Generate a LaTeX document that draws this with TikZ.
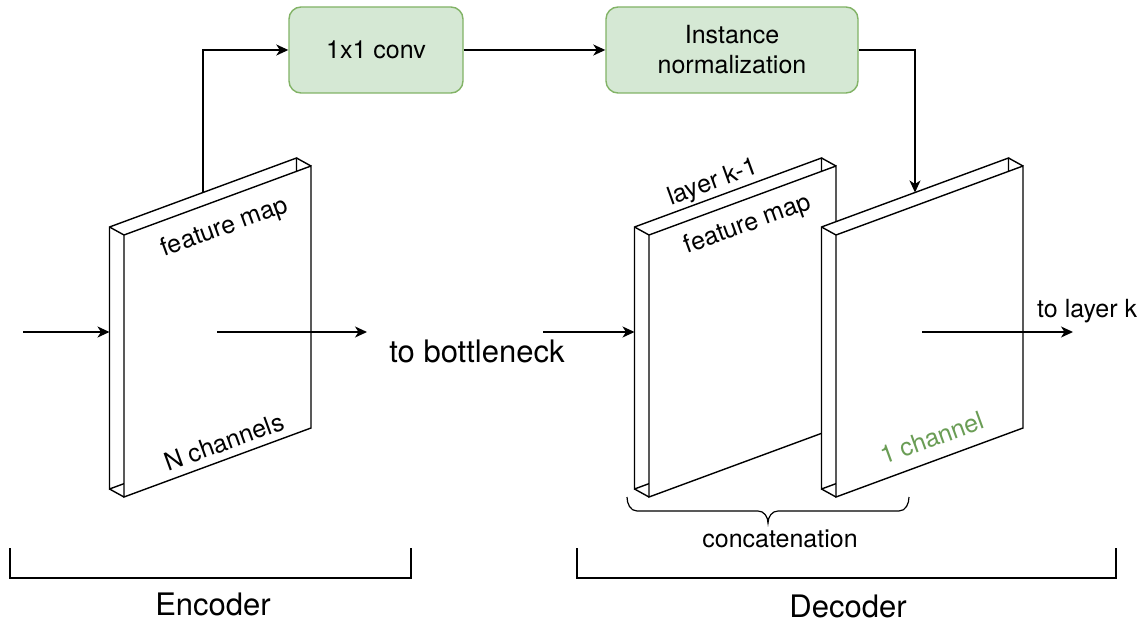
\documentclass[tikz,border=0pt]{standalone}
\usepackage{fontspec}
\setmainfont{TeX Gyre Heros}
\usetikzlibrary{arrows.meta}

\definecolor{boxfill}{HTML}{D5E8D4}
\definecolor{boxline}{HTML}{82B366}
\definecolor{chgreen}{HTML}{6A9D55}

% one feature-map slab: #1 = left x of the front face
\newcommand{\fmslab}[1]{%
  \filldraw[slabline] (#1-14.5,227) -- (#1+172.5,158) -- (#1+172.5,420) -- (#1-14.5,489) -- cycle;
  \draw[slabline] (#1-14.5,227) -- (#1,235) (#1+172.5,158) -- (#1+187,166) (#1-14.5,489) -- (#1,497);
  \filldraw[slabline] (#1,235) -- (#1+187,166) -- (#1+187,428) -- (#1,497) -- cycle;
}

\begin{document}
\begin{tikzpicture}[x=1pt,y=-1pt,
  slabline/.style={line width=1.4pt,fill=white,line join=miter},
  arr/.style={line width=1.6pt,-{Stealth[length=12pt,width=11pt,inset=3.5pt]}},
  opbox/.style={draw=boxline,fill=boxfill,line width=1.4pt,rounded corners=12pt,
                align=center,font=\fontsize{25}{30}\selectfont,inner sep=0pt},
  lbl/.style={font=\fontsize{25}{30}\selectfont,inner sep=0pt},
  biglbl/.style={font=\fontsize{31}{37}\selectfont,inner sep=0pt},
  bracket/.style={line width=1.2pt}]

\useasboundingbox[fill=white] (0,0) rectangle (1145,620);

% feature maps
\fmslab{124}
\fmslab{649}
\fmslab{836}

% slab labels
\node[lbl,rotate=20] (encfm) at (225,228) {feature map};
\node[lbl,rotate=20] (encnc) at (224,442) {N channels};
\node[lbl,rotate=20] (declk) at (713,183) {layer k-1};
\node[lbl,rotate=20] (decfm) at (748,225) {feature map};
\node[lbl,rotate=20,text=chgreen] (dec1c) at (932,438) {1 channel};

% operation boxes
\node[opbox,minimum width=174pt,minimum height=86pt] (conv) at (376,50) {1x1 conv};
\node[opbox,minimum width=252pt,minimum height=86pt] (norm) at (732,50) {Instance\\normalization};

% anchor points on the slabs
\coordinate (src)     at (23,332);
\coordinate (encback) at (109.5,332);
\coordinate (encmid)  at (217,332);
\coordinate (encout)  at (367,332);
\coordinate (enctop)  at (203,192.5);
\coordinate (decsrc)  at (543,332);
\coordinate (decback) at (634.5,332);
\coordinate (dectop)  at (915,192.5);
\coordinate (decmid)  at (922,332);
\coordinate (decout)  at (1073,332);

% connectors
\draw[arr] (src) -- (encback);
\draw[arr] (encmid) -- (encout);
\draw[arr] (enctop) |- (conv.west);
\draw[arr] (conv.east) -- (norm.west);
\draw[arr] (norm.east) -| (dectop);
\draw[arr] (decsrc) -- (decback);
\draw[arr] (decmid) -- (decout);

% free labels
\node[biglbl,anchor=base] (bottle) at (477,362) {to bottleneck};
\node[lbl,anchor=base west] (tolk) at (1037,317) {to layer k};
\node[lbl,anchor=base] (concat) at (780,547) {concatenation};
\node[biglbl,anchor=base] (enc) at (213,615) {Encoder};
\node[biglbl,anchor=base] (dec) at (848,617) {Decoder};

% concatenation brace
\draw[bracket] (627,497) to[out=90+180,in=180] (637,511) -- (758,511)
  to[out=0,in=90] (768,523) to[out=90,in=180] (778,511) -- (899,511)
  to[out=0,in=-90] (909,497);

% encoder / decoder brackets
\draw[bracket] (10,548) -- (10,578) -- (411,578) -- (411,548);
\draw[bracket] (577,548) -- (577,578) -- (1116,578) -- (1116,548);

\end{tikzpicture}
\end{document}
